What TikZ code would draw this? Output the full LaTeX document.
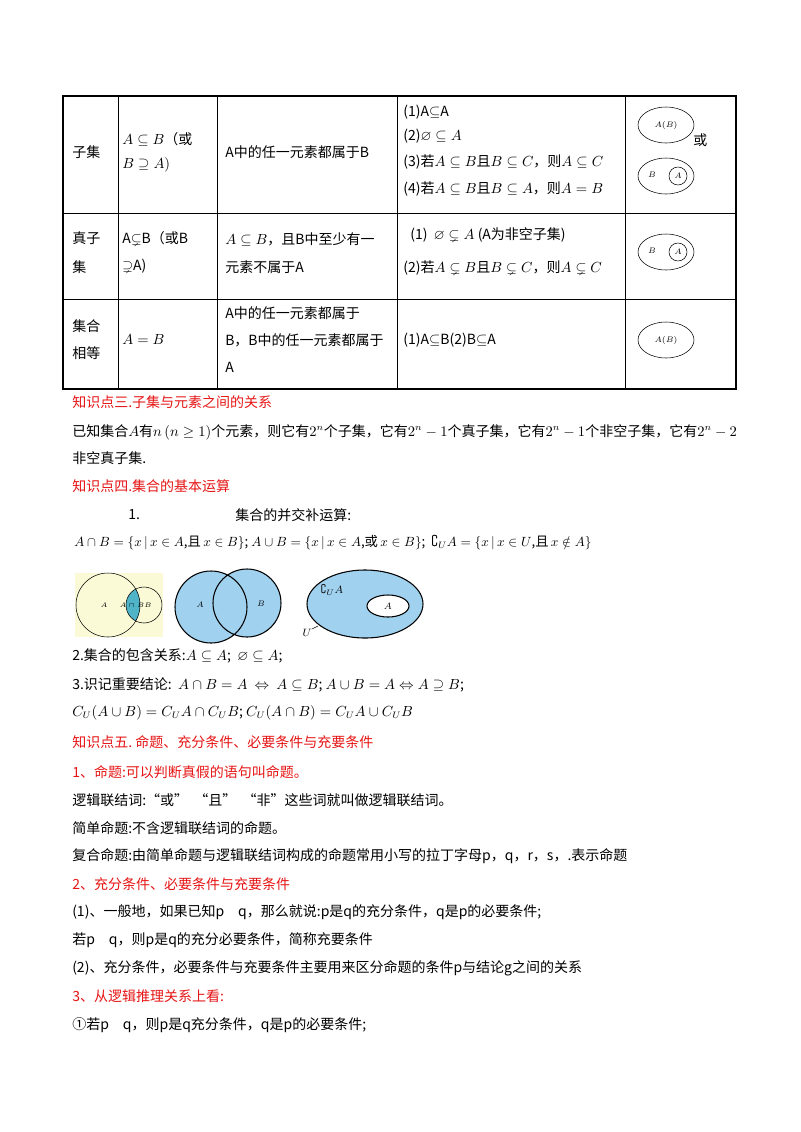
\documentclass[tikz,border=0pt]{standalone}
\usepackage{amsmath,amssymb}
\usepackage{fontspec}
\setmainfont{Noto Sans CJK SC}
\usetikzlibrary{calc}
\definecolor{redhd}{RGB}{230,20,20}
\definecolor{vblue}{RGB}{160,210,240}
\definecolor{vyel}{RGB}{250,250,215}
\definecolor{vteal}{RGB}{80,180,200}
\begin{document}
\begin{tikzpicture}
	[x=0.75pt,y=-0.75pt,font=\fontsize{10.5}{12}\selectfont]
	\tikzstyle{every node}=[anchor=west, inner sep=0pt]
	\tikzstyle{hd}=[text=redhd]
	\tikzstyle{sm}=[font=\fontsize{6}{7}\selectfont, anchor=center]
	\useasboundingbox (0,0) rectangle (800,1132);
	%-----table
	\draw[thick] (63,96) rectangle (736,389);
	\foreach \x in {118,217,397,625}
	\draw (\x,96) -- (\x,389);
	\foreach \y in {213,299}
	\draw (63,\y) -- (736,\y);
	% row 1
	\node (r1a) at (72,152) {子集};
	\node (r1b) at (122,139) {$A\subseteq B$（或};
	\node (r1c) at (122,165) {$B\supseteq A)$};
	\node (r1d) at (225,152) {A中的任一元素都属于B};
	\node (r1e) at (403,112) {(1)A$\subseteq$A};
	\node (r1f) at (403,136) {(2)$\varnothing\subseteq A$};
	\node (r1g) at (403,162) {(3)若$A\subseteq B$且$B\subseteq C$，则$A\subseteq C$};
	\node (r1h) at (403,189) {(4)若$A\subseteq B$且$B\subseteq A$，则$A=B$};
	\draw (666,125) ellipse (28 and 18);
	\node[sm] (r1i) at (666,125) {$A(B)$};
	\node (r1j) at (693,140) {或};
	\draw (666,176) ellipse (28 and 18);
	\draw (678,176) circle (9);
	\node[sm] (r1k) at (652,175) {$B$};
	\node[sm] (r1l) at (678,176) {$A$};
	% row 2
	\node (r2a) at (72,238) {真子};
	\node (r2b) at (72,267) {集};
	\node (r2c) at (122,238) {A$\subsetneq$B（或B};
	\node (r2d) at (122,266) {$\supsetneq$A)};
	\node (r2e) at (225,240) {$A\subseteq B$，且B中至少有一};
	\node (r2f) at (225,267) {元素不属于A};
	\node (r2g) at (410,235) {(1)\ \ $\varnothing\subsetneq A$\ (A为非空子集)};
	\node (r2h) at (403,268) {(2)若$A\subsetneq B$且$B\subsetneq C$，则$A\subsetneq C$};
	\draw (666,252) ellipse (28 and 18);
	\draw (678,252) circle (9);
	\node[sm] (r2i) at (652,251) {$B$};
	\node[sm] (r2j) at (678,252) {$A$};
	% row 3
	\node (r3a) at (72,326) {集合};
	\node (r3b) at (72,353) {相等};
	\node (r3c) at (122,340) {$A=B$};
	\node (r3d) at (225,313) {A中的任一元素都属于};
	\node (r3e) at (225,340) {B，B中的任一元素都属于};
	\node (r3f) at (225,367) {A};
	\node (r3g) at (403,340) {(1)A$\subseteq$B(2)B$\subseteq$A};
	\draw (666,340) ellipse (28 and 18);
	\node[sm] (r3h) at (666,340) {$A(B)$};
	%-----text
	\node[hd] (k3) at (72,402) {知识点三.子集与元素之间的关系};
	\node (t1) at (72,432) {已知集合$A$有$n\,(n\geq1)$个元素，则它有$2^n$个子集，它有$2^n-1$个真子集，它有$2^n-1$个非空子集，它有$2^n-2$};
	\node (t2) at (72,458) {非空真子集.};
	\node[hd] (k4) at (72,486) {知识点四.集合的基本运算};
	\node (t3) at (128,515) {1.};
	\node (t4) at (235,515) {集合的并交补运算:};
	\node[font=\fontsize{10}{12}\selectfont] (t5) at (74,543) {$A\cap B=\{x\,|\,x\in A$,且$\,x\in B\}$;\ $A\cup B=\{x\,|\,x\in A$,或$\,x\in B\}$;\ \ $\complement_U A=\{x\,|\,x\in U$,且$\,x\notin A\}$};
	%-----venn
	\fill[vyel] (75,573) rectangle (163,637);
	\begin{scope}
	\clip (108,605) circle (32);
	\fill[vteal] (144,605) circle (18);
	\end{scope}
	\draw (108,605) circle (32);
	\draw (144,605) circle (18);
	\node[sm,font=\fontsize{4}{5}\selectfont] (va) at (104,605) {$A$};
	\node[sm,font=\fontsize{3.5}{4}\selectfont] (vab) at (132,605) {$A\cap B$};
	\node[sm,font=\fontsize{4}{5}\selectfont] (vb) at (148,605) {$B$};
	\fill[vblue] (211,607) circle (36) (247,603) circle (34);
	\draw[thick] (211,607) circle (36) (247,603) circle (34);
	\node[sm,font=\fontsize{6}{7}\selectfont] (ua) at (200,605) {$A$};
	\node[sm,font=\fontsize{6}{7}\selectfont] (ub) at (261,604) {$B$};
	\fill[vblue] (365,604) ellipse (58 and 34);
	\draw[thick] (365,604) ellipse (58 and 34);
	\filldraw[thick,fill=white] (388,606) ellipse (21 and 11);
	\node[sm,font=\fontsize{7}{8}\selectfont] (ca) at (388,606) {$A$};
	\node[sm,font=\fontsize{8}{9}\selectfont] (cu) at (332,590) {$\complement_U A$};
	\node[sm,font=\fontsize{8}{9}\selectfont] (uu) at (307,633) {$U$};
	\coordinate (ue) at (318,626);
	\draw (uu.north east) -- (ue);
	%-----text
	\node (t6) at (72,656) {2.集合的包含关系:$A\subseteq A$;\ \ $\varnothing\subseteq A$;};
	\node (t7) at (72,685) {3.识记重要结论:\ \ $A\cap B=A\ \Leftrightarrow\ A\subseteq B$; $A\cup B=A\Leftrightarrow A\supseteq B$;};
	\node (t8) at (72,713) {$C_U(A\cup B)=C_U A\cap C_U B$; $C_U(A\cap B)=C_U A\cup C_U B$};
	\node[hd] (k5) at (72,742) {知识点五.\ 命题、充分条件、必要条件与充要条件};
	\node[hd] (h1) at (72,772) {1、命题:可以判断真假的语句叫命题。};
	\node (t9) at (72,800) {逻辑联结词:“或”\ \ “且”\ \ “非”这些词就叫做逻辑联结词。};
	\node (t10) at (72,828) {简单命题:不含逻辑联结词的命题。};
	\node (t11) at (72,856) {复合命题:由简单命题与逻辑联结词构成的命题常用小写的拉丁字母p，q，r，s，.表示命题};
	\node[hd] (h2) at (72,884) {2、充分条件、必要条件与充要条件};
	\node (t12) at (72,912) {(1)、一般地，如果已知p\quad q，那么就说:p是q的充分条件，q是p的必要条件;};
	\node (t13) at (72,940) {若p\quad q，则p是q的充分必要条件，简称充要条件};
	\node (t14) at (72,968) {(2)、充分条件，必要条件与充要条件主要用来区分命题的条件p与结论g之间的关系};
	\node[hd] (h3) at (72,996) {3、从逻辑推理关系上看:};
	\node (t15) at (72,1025) {①若p\quad q，则p是q充分条件，q是p的必要条件;};
\end{tikzpicture}
\end{document}
